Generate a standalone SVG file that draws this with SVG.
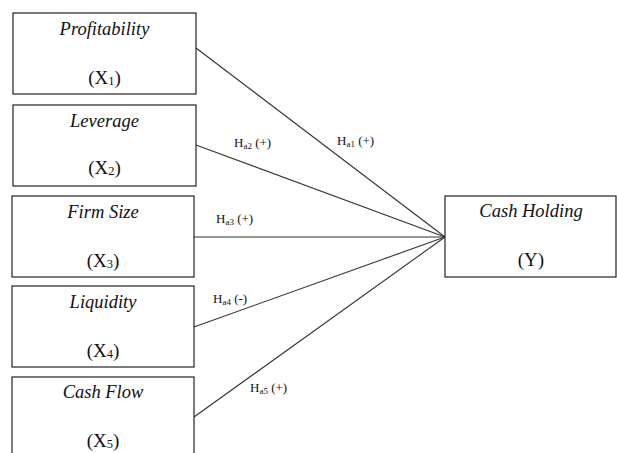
<svg xmlns="http://www.w3.org/2000/svg" width="617" height="453" viewBox="0 0 617 453">
  <style>
    .box { fill: #ffffff; stroke: #222; stroke-width: 1.2; }
    .title { font-family: "Liberation Serif", "Times New Roman", serif; font-style: italic; font-size: 18.5px; fill: #111; text-anchor: middle; }
    .var { font-family: "Liberation Serif", "Times New Roman", serif; font-size: 19px; fill: #111; text-anchor: middle; }
    .sub { font-size: 12.5px; }
    .lab { font-family: "Liberation Serif", "Times New Roman", serif; font-size: 13px; fill: #111; }
    .lsub { font-size: 9px; }
    .link { stroke: #333; stroke-width: 1.1; fill: none; }
  </style>
  <rect width="617" height="453" fill="#ffffff"/>

  <g id="connectors">
    <line class="link" x1="196" y1="48" x2="445" y2="237"/>
    <line class="link" x1="196" y1="145" x2="445" y2="237"/>
    <line class="link" x1="194" y1="237" x2="445" y2="237"/>
    <line class="link" x1="194" y1="327" x2="445" y2="237"/>
    <line class="link" x1="194" y1="417" x2="445" y2="237"/>
    <text class="lab" x="337" y="145">H<tspan class="lsub" dy="2">a1</tspan><tspan dy="-2"> (+)</tspan></text>
    <text class="lab" x="234" y="147">H<tspan class="lsub" dy="2">a2</tspan><tspan dy="-2"> (+)</tspan></text>
    <text class="lab" x="216" y="223">H<tspan class="lsub" dy="2">a3</tspan><tspan dy="-2"> (+)</tspan></text>
    <text class="lab" x="213" y="303">H<tspan class="lsub" dy="2">a4</tspan><tspan dy="-2"> (-)</tspan></text>
    <text class="lab" x="250" y="392">H<tspan class="lsub" dy="2">a5</tspan><tspan dy="-2"> (+)</tspan></text>
  </g>

  <g id="profitability">
    <rect class="box" x="13" y="13" width="183" height="81"/>
    <text class="title" x="104.5" y="35">Profitability</text>
    <text class="var" x="104.5" y="84">(X<tspan class="sub" dy="1">1</tspan><tspan dy="-1">)</tspan></text>
  </g>
  <g id="leverage">
    <rect class="box" x="13" y="105" width="183" height="81"/>
    <text class="title" x="104.5" y="127">Leverage</text>
    <text class="var" x="104.5" y="174">(X<tspan class="sub" dy="1">2</tspan><tspan dy="-1">)</tspan></text>
  </g>
  <g id="firm-size">
    <rect class="box" x="12" y="196" width="182" height="81"/>
    <text class="title" x="103" y="218">Firm Size</text>
    <text class="var" x="103" y="267">(X<tspan class="sub" dy="1">3</tspan><tspan dy="-1">)</tspan></text>
  </g>
  <g id="liquidity">
    <rect class="box" x="12" y="286" width="182" height="81"/>
    <text class="title" x="103" y="308">Liquidity</text>
    <text class="var" x="103" y="357">(X<tspan class="sub" dy="1">4</tspan><tspan dy="-1">)</tspan></text>
  </g>
  <g id="cash-flow">
    <rect class="box" x="12" y="377" width="182" height="90"/>
    <text class="title" x="103" y="398">Cash Flow</text>
    <text class="var" x="103" y="447">(X<tspan class="sub" dy="1">5</tspan><tspan dy="-1">)</tspan></text>
  </g>
  <g id="cash-holding">
    <rect class="box" x="445" y="196" width="171" height="81"/>
    <text class="title" x="531" y="217">Cash Holding</text>
    <text class="var" x="531" y="266">(Y)</text>
  </g>
</svg>
